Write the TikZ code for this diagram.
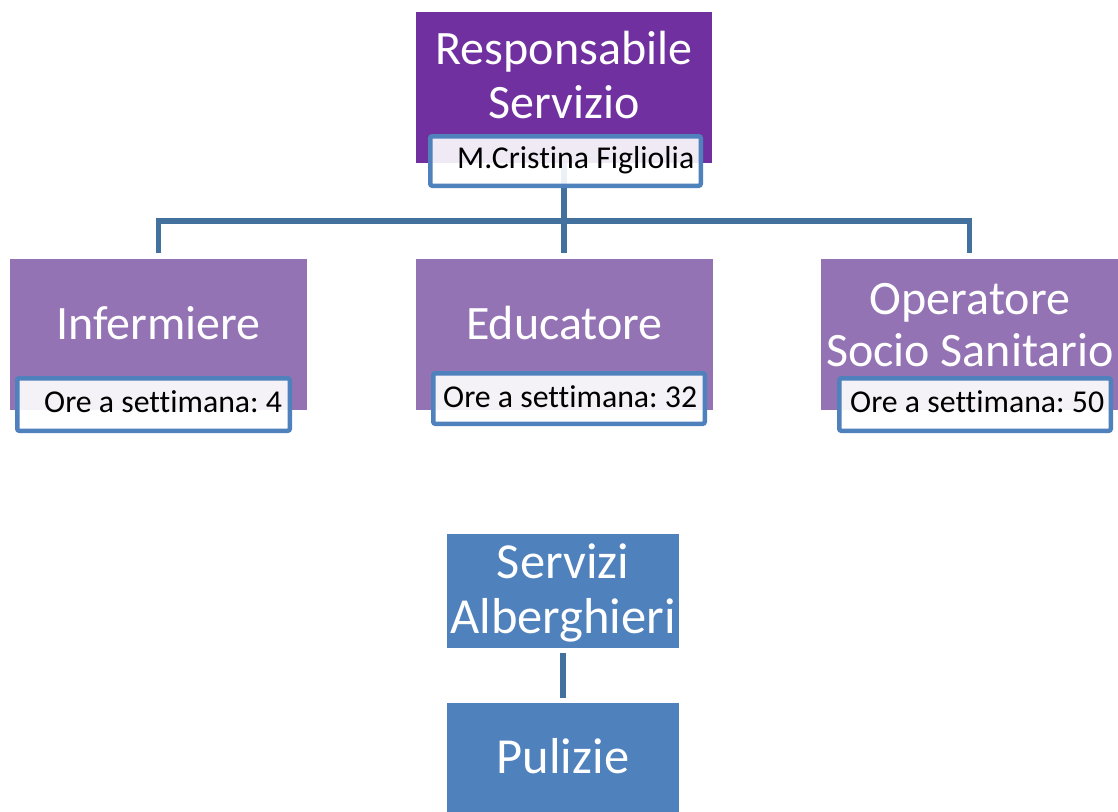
\documentclass[tikz,border=0pt]{standalone}
\usepackage{fontspec}
\setmainfont{Carlito}[Ligatures=NoCommon]
\frenchspacing
\definecolor{topPurple}{HTML}{7030A0}
\definecolor{rolePurple}{HTML}{9473B5}
\definecolor{blueBox}{HTML}{4F81BD}
\definecolor{connBlue}{HTML}{41719C}
\tikzset{
  boxbase/.style={rectangle, inner sep=0pt, outer sep=0pt, draw=none},
  topbox/.style={boxbase, fill=topPurple, minimum width=296pt, minimum height=151pt},
  rolebox/.style={boxbase, fill=rolePurple, minimum width=297pt, minimum height=151pt},
  bluebox/.style={boxbase, fill=blueBox, minimum width=232pt, minimum height=114pt},
  orebox/.style={rectangle, inner sep=0pt, outer sep=0pt, draw=blueBox, line width=4.5pt,
    fill=white, fill opacity=0.9, rounded corners=2pt},
  bigtext/.style={inner sep=0pt, text=white, align=center, font=\fontsize{48}{54}\selectfont},
  bluetext/.style={bigtext, font=\fontsize{50.5}{55}\selectfont},
  smalltext/.style={inner sep=0pt, text=black, anchor=base west, font=\fontsize{31.8}{36}\selectfont},
  conn/.style={draw=connBlue, line width=5.5pt, line join=miter},
}
\begin{document}
\begin{tikzpicture}[x=1pt,y=-1pt]
\useasboundingbox (0,0) rectangle (1118,811);
\clip (0,0) rectangle (1118,811);
% boxes
\node[topbox] (resp) at (564,87.5) {};
\node[rolebox] (inf) at (158.5,334.5) {};
\node[rolebox] (edu) at (564.5,334.5) {};
\node[rolebox] (oss) at (969.5,334.5) {};
\node[bluebox] (serv) at (563,591) {};
\node[bluebox] (pul) at (563,760) {};
% connectors
\coordinate (bus) at (564,221);
\draw[conn] (resp.south) -- (bus);
\draw[conn, shorten <=6pt, shorten >=6pt] (inf.north) -- (inf.north |- bus) -- (oss.north |- bus) -- (oss.north);
\draw[conn, shorten >=6pt] (bus) -- (bus |- edu.north);
\draw[conn, shorten <=5pt, shorten >=5pt] (serv.south) -- (pul.north);
% sub boxes
\node[orebox, minimum width=270.5pt, minimum height=49.5pt] (mcbox) at (565.5,161) {};
\node[orebox, minimum width=272.5pt, minimum height=52.5pt] (infbox) at (153.5,404.5) {};
\node[orebox, minimum width=271.5pt, minimum height=50.5pt] (edubox) at (569,398.5) {};
\node[orebox, minimum width=271.5pt, minimum height=52.5pt] (ossbox) at (975,404.5) {};
% titles (base anchor = last line baseline)
\node[bigtext, anchor=base] (resptxt) at (564,118) {Responsabile\\Servizio};
\node[bigtext, anchor=base] (inftxt) at (158.5,339) {Infermiere};
\node[bigtext, anchor=base] (edutxt) at (564.5,339) {Educatore};
\node[bigtext, anchor=base, font=\fontsize{48}{52}\selectfont] (osstxt) at (970,366) {Operatore\\Socio Sanitario};
\node[bluetext, anchor=base] (servtxt) at (563,633) {Servizi\\Alberghieri};
\node[bluetext, anchor=base] (pultxt) at (563,773) {Pulizie};
% small texts
\node[smalltext] (mctxt) at (457,168) {M.Cristina Figliolia};
\node[smalltext] (inforetxt) at (44,412) {Ore a settimana: 4};
\node[smalltext] (eduoretxt) at (443,407) {Ore a settimana: 32};
\node[smalltext] (ossoretxt) at (850,412) {Ore a settimana: 50};
\end{tikzpicture}
\end{document}
